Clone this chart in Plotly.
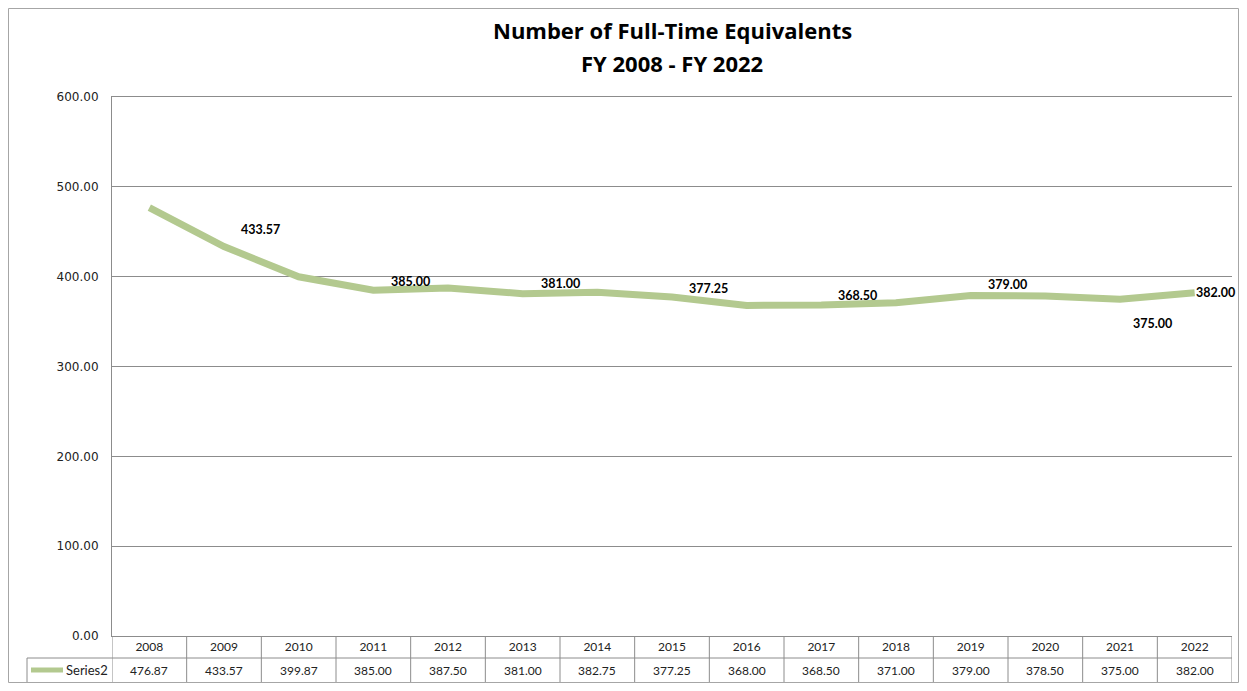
import plotly.graph_objects as go

# data
years = ["2008", "2009", "2010", "2011", "2012", "2013", "2014", "2015",
         "2016", "2017", "2018", "2019", "2020", "2021", "2022"]
fte = [476.87, 433.57, 399.87, 385.00, 387.50, 381.00, 382.75, 377.25,
       368.00, 368.50, 371.00, 379.00, 378.50, 375.00, 382.00]
series_name = "Series2"
title_lines = ["Number of Full-Time Equivalents", "FY 2008 - FY 2022"]

# which points carry a label and where it sits (px offset from the point)
label_offsets = {
    "2009": (36, 17, "center"),
    "2011": (37, 9, "center"),
    "2013": (38, 10, "center"),
    "2015": (36, 9, "center"),
    "2017": (36, 9, "center"),
    "2019": (37, 11, "center"),
    "2021": (32, -24, "center"),
    "2022": (-1, 0, "left"),
}

# the page body adds an 8px margin on every side; keep the figure inside the window
OFF = 8
W, H = 1247 - 2 * OFF, 691 - 2 * OFF
L, T = 112 - OFF, 97 - OFF
R = OFF + W - 1232
B = OFF + H - 636
PW, PH = W - L - R, H - T - B
LINE_COL = "#b3c98f"
GRID_COL = "#8c8c8c"
FONT = "Lato"


def py(px_below):
    # pixel distance below the plot bottom -> paper y
    return -px_below / PH


def px_x(px):
    # absolute page pixel x -> paper x
    return (px - OFF - L) / PW


idx = list(range(len(years)))

fig = go.Figure()
fig.add_trace(go.Scatter(
    x=years, y=fte, mode="lines", name=series_name,
    line=dict(color=LINE_COL, width=7), showlegend=False,
))

ann = []
for t, dy in zip(title_lines, [67, 34]):
    ann.append(dict(text="<b>%s</b>" % t, x=0.5, xref="paper", y=1, yref="paper",
                    yshift=dy, showarrow=False, xanchor="center", yanchor="middle",
                    font=dict(family="Open Sans", size=22, color="black")))

for i, yr, v in zip(idx, years, fte):
    if yr in label_offsets:
        dx, dy, anchor = label_offsets[yr]
        ann.append(dict(text="<b>%.2f</b>" % v, x=i, xref="x", y=v, yref="y",
                        showarrow=False, xshift=dx, yshift=dy, xanchor=anchor,
                        yanchor="middle",
                        font=dict(family=FONT, size=12.5, color="black")))

# data table value row
for i, v in zip(idx, fte):
    ann.append(dict(text="%.2f" % v, x=i, xref="x", y=0, yref="paper", yshift=-34,
                    showarrow=False, xanchor="center", yanchor="middle",
                    font=dict(family=FONT, size=12, color="#222")))
ann.append(dict(text=series_name, x=px_x(110), xref="paper", y=0, yref="paper",
                yshift=-34, showarrow=False, xanchor="right", yanchor="middle",
                font=dict(family=FONT, size=13, color="#222")))

shapes = []
n = len(years)
border = dict(color=GRID_COL, width=1)
for i in range(n + 1):
    shapes.append(dict(type="line", xref="x", yref="paper", x0=i - 0.5, x1=i - 0.5,
                       y0=0, y1=py(46.5), line=border))
shapes.append(dict(type="line", xref="x", yref="paper", x0=-0.5, x1=n - 0.5,
                   y0=py(22), y1=py(22), line=border))
shapes.append(dict(type="line", xref="paper", yref="paper", x0=px_x(27), x1=px_x(1232),
                   y0=py(46.5), y1=py(46.5), line=border))
shapes.append(dict(type="line", xref="paper", yref="paper", x0=px_x(27), x1=px_x(112),
                   y0=py(22), y1=py(22), line=border))
shapes.append(dict(type="line", xref="paper", yref="paper", x0=px_x(27), x1=px_x(27),
                   y0=py(22), y1=py(46.5), line=border))
# legend key inside the table
shapes.append(dict(type="line", xref="paper", yref="paper", x0=px_x(31), x1=px_x(63),
                   y0=py(34), y1=py(34), line=dict(color=LINE_COL, width=5)))
# outer chart frame along the figure edge
shapes.append(dict(type="rect", xref="paper", yref="paper",
                   x0=-(L - 0.5) / PW, x1=1 + (R - 0.5) / PW,
                   y0=py(B - 0.5), y1=1 + (T - 0.5) / PH,
                   line=dict(color="#a6a6a6", width=1)))

fig.update_layout(
    width=W, height=H,
    margin=dict(l=L, r=R, t=T, b=B),
    paper_bgcolor="white", plot_bgcolor="white",
    annotations=ann, shapes=shapes,
    font=dict(family=FONT, color="#222"),
)
fig.update_xaxes(type="category", range=[-0.5, n - 0.5], showgrid=False,
                 showline=True, mirror=True, linecolor=GRID_COL, ticks="",
                 tickfont=dict(family=FONT, size=12, color="#222"),
                 ticklabelstandoff=0)
fig.update_yaxes(range=[0, 600], dtick=100, tickformat=".2f", showgrid=True,
                 gridcolor=GRID_COL, gridwidth=1, zeroline=False,
                 showline=True, linecolor=GRID_COL, ticks="",
                 tickfont=dict(family="DejaVu Sans", size=12, color="#222"),
                 ticklabelstandoff=10)

fig.write_html("out.html")
